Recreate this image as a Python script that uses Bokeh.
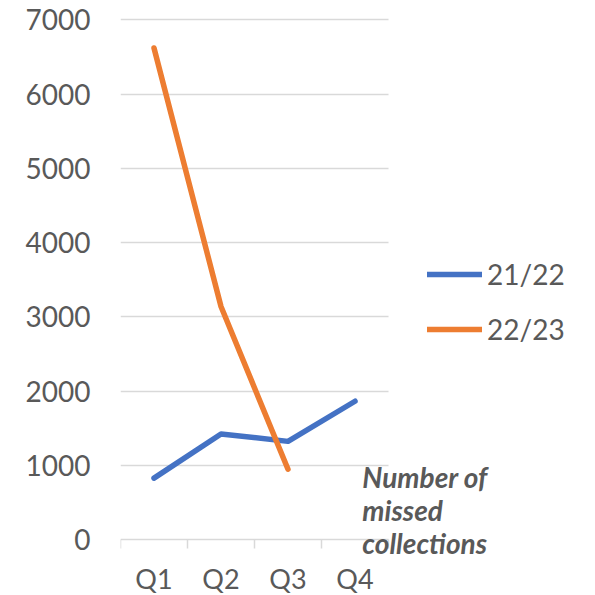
from bokeh.plotting import figure
from bokeh.models import Range1d, FixedTicker, Legend, LegendItem, Label, LinearAxis
from bokeh.embed import file_html
from bokeh.resources import INLINE

quarters = ["Q1", "Q2", "Q3", "Q4"]
series_2122 = [830, 1425, 1325, 1865]
series_2223 = [6620, 3140, 950]
y_ticks = [0, 1000, 2000, 3000, 4000, 5000, 6000, 7000]

FONT = "Lato"
GRAY = "#595959"
GRID = "#d9d9d9"

n = len(quarters)
px_per_cat = 67.0
px_per_unit = 520.0 / 7000
frame_w = 595 - 120
y_top = 7000 + 19.3 / px_per_unit
y_bot = -(595 - 539.3) / px_per_unit

p = figure(width=595, height=595, output_backend="svg", toolbar_location=None,
           x_range=Range1d(0, frame_w / px_per_cat), y_range=Range1d(y_bot, y_top),
           x_axis_location=None,
           min_border_left=120, min_border_right=0, min_border_top=0, min_border_bottom=0)
p.outline_line_color = None
p.background_fill_color = "white"
p.border_fill_color = "white"

xs = [i + 0.5 for i in range(n)]

p.xgrid.grid_line_color = None
p.ygrid.ticker = FixedTicker(ticks=y_ticks[1:])
p.ygrid.grid_line_color = GRID
p.ygrid.grid_line_width = 1.5
p.ygrid.cross_bounds = (0, n)

r1 = p.line(xs, series_2122, line_color="#4472C4", line_width=5.5,
            line_cap="round", line_join="round")
r2 = p.line(xs[:len(series_2223)], series_2223, line_color="#ED7D31", line_width=5.5,
            line_cap="round", line_join="round")

# x axis
xa = LinearAxis(fixed_location=0, bounds=(0, n))
xa.ticker = FixedTicker(ticks=xs, minor_ticks=list(range(n + 1)))
xa.major_label_overrides = {x: q for x, q in zip(xs, quarters)}
xa.major_tick_line_color = None
xa.major_tick_out = 0
xa.major_tick_in = 0
xa.minor_tick_line_color = GRID
xa.minor_tick_line_width = 1.5
xa.minor_tick_out = 9
xa.minor_tick_in = 0
xa.axis_line_color = GRID
xa.axis_line_width = 1.5
xa.major_label_text_font = FONT
xa.major_label_text_font_size = "27px"
xa.major_label_text_color = GRAY
xa.major_label_standoff = 13
p.add_layout(xa, "below")

# y axis
ya = p.yaxis[0]
ya.ticker = FixedTicker(ticks=y_ticks)
ya.axis_line_color = None
ya.major_tick_line_color = None
ya.minor_tick_line_color = None
ya.major_tick_out = 0
ya.major_label_text_font = FONT
ya.major_label_text_font_size = "28px"
ya.major_label_text_color = GRAY
ya.major_label_standoff = 30

legend = Legend(items=[LegendItem(label="21/22", renderers=[r1]),
                       LegendItem(label="22/23", renderers=[r2])],
                location=(307, 249), orientation="vertical",
                label_text_font=FONT, label_text_font_size="28px",
                label_text_color=GRAY, glyph_width=55, glyph_height=30,
                label_height=30, label_standoff=5, spacing=21,
                border_line_color=None, background_fill_alpha=0, padding=0, margin=0)
p.add_layout(legend)

note = Label(x=3.61, y=1076, text="Number of\nmissed\ncollections",
             text_font=FONT, text_font_style="bold italic", text_font_size="28px",
             text_color=GRAY, text_align="left", text_baseline="top",
             text_line_height=0.98)
p.add_layout(note)

open("out.html", "w").write(file_html(p, INLINE))
